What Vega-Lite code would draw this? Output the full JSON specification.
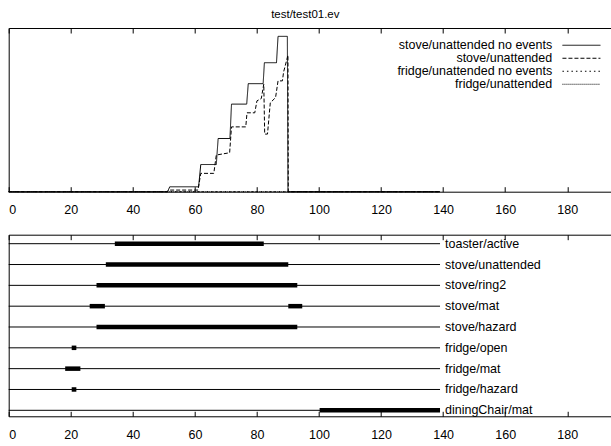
{
  "$schema": "https://vega.github.io/schema/vega-lite/v6.json",
  "background": "white",
  "padding": {"left": 5.7, "top": 9, "right": 0, "bottom": 0},
  "title": {"text": "test/test01.ev", "fontSize": 11.5, "fontWeight": "normal", "color": "black", "anchor": "middle", "offset": 7, "dx": -3},
  "config": {
    "font": "Liberation Sans",
    "view": {"stroke": null},
    "axis": {"grid": false, "domainColor": "black", "tickColor": "black", "labelColor": "black", "labelFontSize": 12.5, "title": null, "domainWidth": 1, "tickWidth": 1}
  },
  "spacing": 16.7,
  "datasets": {
    "levels": [
      {"s": "stove/unattended no events", "t": 0, "v": 0},
      {"s": "stove/unattended no events", "t": 51.2, "v": 0},
      {"s": "stove/unattended no events", "t": 51.9, "v": 3.0},
      {"s": "stove/unattended no events", "t": 61.2, "v": 3.0},
      {"s": "stove/unattended no events", "t": 61.9, "v": 16.6},
      {"s": "stove/unattended no events", "t": 66.9, "v": 16.6},
      {"s": "stove/unattended no events", "t": 67.5, "v": 32.5},
      {"s": "stove/unattended no events", "t": 71.3, "v": 32.5},
      {"s": "stove/unattended no events", "t": 71.8, "v": 53.5},
      {"s": "stove/unattended no events", "t": 76.7, "v": 53.5},
      {"s": "stove/unattended no events", "t": 77.2, "v": 66.0},
      {"s": "stove/unattended no events", "t": 82.0, "v": 66.0},
      {"s": "stove/unattended no events", "t": 82.4, "v": 78.8},
      {"s": "stove/unattended no events", "t": 86.3, "v": 78.8},
      {"s": "stove/unattended no events", "t": 86.8, "v": 94.9},
      {"s": "stove/unattended no events", "t": 89.8, "v": 94.9},
      {"s": "stove/unattended no events", "t": 90.0, "v": 0},
      {"s": "stove/unattended no events", "t": 139, "v": 0},
      {"s": "stove/unattended", "t": 0, "v": 0},
      {"s": "stove/unattended", "t": 51.0, "v": 0},
      {"s": "stove/unattended", "t": 51.7, "v": 1.0},
      {"s": "stove/unattended", "t": 61.0, "v": 1.0},
      {"s": "stove/unattended", "t": 61.9, "v": 11.2},
      {"s": "stove/unattended", "t": 66.1, "v": 11.2},
      {"s": "stove/unattended", "t": 66.9, "v": 22.4},
      {"s": "stove/unattended", "t": 71.2, "v": 23.8},
      {"s": "stove/unattended", "t": 71.8, "v": 39.6},
      {"s": "stove/unattended", "t": 76.4, "v": 39.6},
      {"s": "stove/unattended", "t": 76.8, "v": 48.2},
      {"s": "stove/unattended", "t": 79.3, "v": 48.2},
      {"s": "stove/unattended", "t": 80.0, "v": 55.5},
      {"s": "stove/unattended", "t": 81.4, "v": 56.9},
      {"s": "stove/unattended", "t": 82.2, "v": 65.7},
      {"s": "stove/unattended", "t": 82.5, "v": 35.2},
      {"s": "stove/unattended", "t": 83.4, "v": 35.2},
      {"s": "stove/unattended", "t": 84.3, "v": 54.3},
      {"s": "stove/unattended", "t": 86.0, "v": 57.5},
      {"s": "stove/unattended", "t": 86.8, "v": 67.7},
      {"s": "stove/unattended", "t": 88.2, "v": 67.7},
      {"s": "stove/unattended", "t": 88.6, "v": 73.2},
      {"s": "stove/unattended", "t": 90.0, "v": 83.4},
      {"s": "stove/unattended", "t": 90.1, "v": 0},
      {"s": "stove/unattended", "t": 139, "v": 0},
      {"s": "fridge/unattended no events", "t": 0, "v": 0},
      {"s": "fridge/unattended no events", "t": 139, "v": 0},
      {"s": "fridge/unattended", "t": 0, "v": 0},
      {"s": "fridge/unattended", "t": 139, "v": 0}
    ],
    "tracks": [
      {"signal": "toaster/active", "start": 0, "end": 139},
      {"signal": "stove/unattended", "start": 0, "end": 139},
      {"signal": "stove/ring2", "start": 0, "end": 139},
      {"signal": "stove/mat", "start": 0, "end": 139},
      {"signal": "stove/hazard", "start": 0, "end": 139},
      {"signal": "fridge/open", "start": 0, "end": 139},
      {"signal": "fridge/mat", "start": 0, "end": 139},
      {"signal": "fridge/hazard", "start": 0, "end": 139},
      {"signal": "diningChair/mat", "start": 0, "end": 139}
    ],
    "spans": [
      {"signal": "toaster/active", "start": 34.2, "end": 82.2},
      {"signal": "stove/unattended", "start": 31.3, "end": 90.1},
      {"signal": "stove/ring2", "start": 28.3, "end": 93.0},
      {"signal": "stove/mat", "start": 26.1, "end": 31.0},
      {"signal": "stove/mat", "start": 90.1, "end": 94.6},
      {"signal": "stove/hazard", "start": 28.3, "end": 93.0},
      {"signal": "fridge/open", "start": 20.3, "end": 21.8},
      {"signal": "fridge/mat", "start": 18.2, "end": 23.1},
      {"signal": "fridge/hazard", "start": 20.3, "end": 21.8},
      {"signal": "diningChair/mat", "start": 100.2, "end": 139}
    ]
  },
  "vconcat": [
    {
      "width": 602,
      "height": 163.7,
      "data": {"name": "levels"},
      "layer": [
        {
          "mark": {"type": "line", "color": "black", "strokeWidth": 1},
          "encoding": {
            "x": {"field": "t", "type": "quantitative", "scale": {"domain": [0, 194], "nice": false, "zero": false},
                  "axis": {"values": [0, 20, 40, 60, 80, 100, 120, 140, 160, 180], "tickSize": -5, "labelPadding": 17, "orient": "bottom"}},
            "y": {"field": "v", "type": "quantitative", "scale": {"domain": [0, 100], "nice": false},
                  "axis": {"labels": false, "ticks": false, "domain": true}},
            "strokeDash": {"field": "s", "type": "nominal",
              "scale": {"domain": ["stove/unattended no events", "stove/unattended", "fridge/unattended no events", "fridge/unattended"],
                        "range": [[1, 0], [4, 2], [1.5, 3], [1, 1]]},
              "legend": {"orient": "none", "legendX": 566.5, "legendY": 11, "title": null, "symbolType": "M-3.8,0H3.8", "symbolSize": 100,
                         "symbolStrokeWidth": 1, "symbolStrokeColor": "black", "labelAlign": "right", "labelOffset": -35.5,
                         "labelFontSize": 12.5, "labelColor": "black", "rowPadding": -5.5, "padding": 0, "labelLimit": 400}
            }
          }
        },
        {
          "mark": {"type": "point", "opacity": 0},
          "encoding": {
            "x": {"field": "t", "type": "quantitative",
                  "axis": {"orient": "top", "values": [0, 20, 40, 60, 80, 100, 120, 140, 160, 180], "tickSize": -5, "labels": false}},
            "y": {"field": "v", "type": "quantitative"}
          }
        }
      ],
      "resolve": {"axis": {"x": "independent"}}
    },
    {
      "width": 602,
      "height": 181.6,
      "layer": [
        {
          "data": {"name": "tracks"},
          "mark": {"type": "rule", "color": "black", "strokeWidth": 1},
          "encoding": {
            "x": {"field": "start", "type": "quantitative", "scale": {"domain": [0, 194], "nice": false, "zero": false},
                  "axis": {"values": [0, 20, 40, 60, 80, 100, 120, 140, 160, 180], "tickSize": -5, "labelPadding": 17, "orient": "bottom"}},
            "x2": {"field": "end"},
            "y": {"field": "signal", "type": "nominal",
                  "scale": {"type": "point", "domain": ["toaster/active", "stove/unattended", "stove/ring2", "stove/mat", "stove/hazard", "fridge/open", "fridge/mat", "fridge/hazard", "diningChair/mat"], "padding": 0.36, "align": 0.6},
                  "axis": {"labels": false, "ticks": false, "domain": true}}
          }
        },
        {
          "data": {"name": "spans"},
          "mark": {"type": "rule", "color": "black", "strokeWidth": 4.5, "strokeCap": "butt"},
          "encoding": {
            "x": {"field": "start", "type": "quantitative",
                  "axis": {"orient": "top", "values": [0, 20, 40, 60, 80, 100, 120, 140, 160, 180], "tickSize": -5, "labels": false}},
            "x2": {"field": "end"},
            "y": {"field": "signal", "type": "nominal"}
          }
        },
        {
          "data": {"name": "tracks"},
          "mark": {"type": "text", "align": "left", "baseline": "middle", "dx": 5, "fontSize": 12.5, "color": "black"},
          "encoding": {
            "x": {"field": "end", "type": "quantitative", "axis": null},
            "y": {"field": "signal", "type": "nominal"},
            "text": {"field": "signal"}
          }
        }
      ],
      "resolve": {"axis": {"x": "independent"}}
    }
  ]
}
